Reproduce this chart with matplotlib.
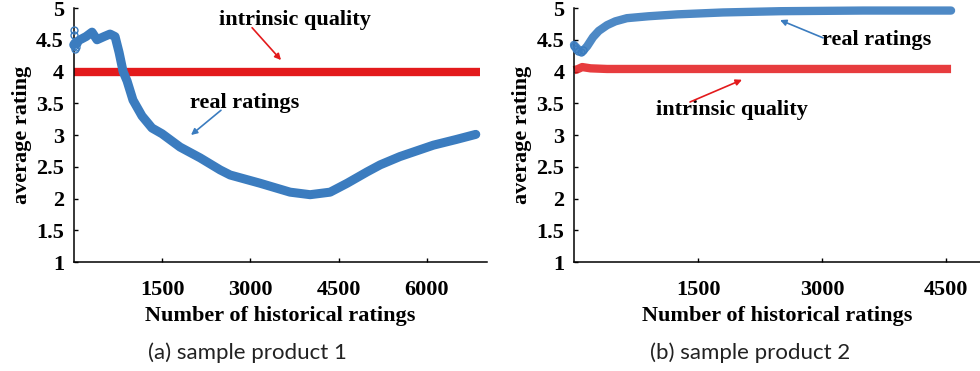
import matplotlib.pyplot as plt
import numpy as np

# product 1 (left panel)
p1_x = [0, 22, 107, 209, 311, 396, 515, 617, 703, 771, 839, 907, 1007, 1160, 1330,
        1500, 1690, 1807, 2148, 2488, 2658, 3167, 3676, 4016, 4356, 4645, 4985,
        5206, 5540, 6110, 6500, 6830]
p1_real = [4.42, 4.45, 4.5, 4.55, 4.62, 4.5, 4.55, 4.59, 4.55, 4.3, 4.0, 3.85, 3.55,
           3.3, 3.11, 3.02, 2.89, 2.81, 2.64, 2.45, 2.37, 2.24, 2.10, 2.06, 2.10,
           2.24, 2.42, 2.53, 2.66, 2.84, 2.93, 3.01]
p1_early_x = [0, 5, 12, 25, 40, 60]
p1_early_y = [4.65, 4.58, 4.4, 4.35, 4.38, 4.45]
p1_quality_x = [0, 6900]
p1_quality = [4.0, 4.0]

# product 2 (right panel)
p2_x = [0, 50, 100, 160, 230, 300, 400, 500, 640, 900, 1250, 1800, 2500, 3500, 4560]
p2_real = [4.42, 4.35, 4.31, 4.4, 4.54, 4.64, 4.73, 4.79, 4.84, 4.87, 4.9, 4.93,
           4.95, 4.96, 4.96]
p2_early_x = [0, 20, 45, 80, 110]
p2_early_y = [4.4, 4.36, 4.32, 4.31, 4.34]
p2_quality_x = [0, 50, 100, 200, 400, 4560]
p2_quality = [4.02, 4.04, 4.07, 4.05, 4.04, 4.04]

BLUE = '#3b7cbf'
RED = '#e31a1c'
FS = 16
serif = {'family': 'Liberation Serif', 'weight': 'bold', 'size': FS}

fig = plt.figure(figsize=(9.8, 3.71), dpi=100)
ax1 = fig.add_axes([0.0752, 0.2938, 0.4217, 0.6846])
ax2 = fig.add_axes([0.5857, 0.2938, 0.4143, 0.6846])

ax1.plot(p1_quality_x, p1_quality, color=RED, lw=6, solid_capstyle='butt', zorder=2)
ax1.plot(p1_x, p1_real, color=BLUE, lw=6.5, solid_capstyle='round',
         solid_joinstyle='round', zorder=3)
ax1.plot(p1_early_x, p1_early_y, 'o', mfc='none', mec=BLUE, ms=5, mew=1, zorder=3)
ax1.set_xlim(0, 7020)
ax1.set_xticks([1500, 3000, 4500, 6000])

ax2.plot(p2_quality_x, p2_quality, color=RED, lw=6, alpha=0.85,
         solid_capstyle='butt', solid_joinstyle='round', zorder=2)
ax2.plot(p2_x, p2_real, color=BLUE, lw=6, alpha=0.9, solid_capstyle='round',
         solid_joinstyle='round', zorder=3)
ax2.plot(p2_early_x, p2_early_y, 'o', mfc='none', mec=BLUE, ms=5, mew=1, zorder=3)
ax2.set_xlim(0, 4910)
ax2.set_xticks([1500, 3000, 4500])

for ax in (ax1, ax2):
    ax.set_ylim(1, 5)
    ax.set_yticks([1, 1.5, 2, 2.5, 3, 3.5, 4, 4.5, 5])
    ax.set_yticklabels(['1', '1.5', '2', '2.5', '3', '3.5', '4', '4.5', '5'])
    ax.spines['right'].set_visible(False)
    ax.spines['top'].set_visible(False)
    ax.spines['left'].set_linewidth(1.1)
    ax.spines['bottom'].set_linewidth(1.1)
    ax.tick_params(direction='in', length=3, width=1, pad=7)
    ax.tick_params(axis='x', pad=13)
    for lab in ax.get_xticklabels() + ax.get_yticklabels():
        lab.set_fontproperties('Liberation Serif')
        lab.set_fontweight('bold')
        lab.set_fontsize(FS)
    ax.set_ylabel('average rating', fontdict=serif, labelpad=3)
    ax.set_xlabel('Number of historical ratings', fontdict=serif, labelpad=4)

for ln in ax1.lines + ax2.lines:
    ln.set_clip_on(False)


def label(ax, text, pos):
    ax.text(pos[0], pos[1], text, ha='center', va='center', fontsize=FS,
            fontfamily='Liberation Serif', fontweight='bold')


def arrow(ax, start, end, color):
    ax.annotate('', xy=end, xytext=start,
                arrowprops=dict(arrowstyle='-|>', color=color, lw=1.2,
                                mutation_scale=9, shrinkA=0, shrinkB=0))


label(ax1, 'intrinsic quality', (3760, 4.81))
arrow(ax1, (3030, 4.69), (3522, 4.18), RED)
label(ax1, 'real ratings', (2910, 3.5))
arrow(ax1, (2502, 3.39), (1993, 3.0), BLUE)

label(ax2, 'real ratings', (3665, 4.5))
arrow(ax2, (3012, 4.53), (2492, 4.81), BLUE)
label(ax2, 'intrinsic quality', (1911, 3.39))
arrow(ax2, (1403, 3.52), (2032, 3.87), RED)

fig.text(0.252, 0.048, '(a) sample product 1', ha='center', va='center',
         fontsize=16, fontfamily='Lato', color='#222222')
fig.text(0.765, 0.048, '(b) sample product 2', ha='center', va='center',
         fontsize=16, fontfamily='Lato', color='#222222')

fig.savefig('out.png', dpi=100)
